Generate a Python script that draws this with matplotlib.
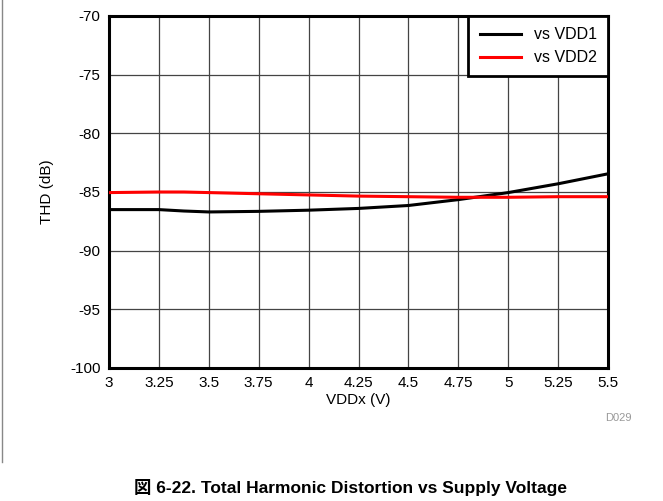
#!/usr/bin/env python3

"""
THD vs supply voltage (VDD1 / VDD2 sweep).
"""

import matplotlib
matplotlib.use("Agg")
import matplotlib.pyplot as plt
from matplotlib.lines import Line2D

plt.rcParams["font.family"] = ["Liberation Sans", "Noto Sans CJK JP", "DejaVu Sans"]
plt.rcParams["axes.unicode_minus"] = False

vdd = [3.0, 3.25, 3.375, 3.5, 3.75, 4.0, 4.25, 4.5, 4.75, 5.0, 5.25, 5.5]
thd_vdd1 = [-86.5, -86.5, -86.62, -86.7, -86.65, -86.55, -86.4, -86.15, -85.65, -85.05, -84.3, -83.45]
thd_vdd2 = [-85.05, -85.0, -85.0, -85.05, -85.15, -85.25, -85.35, -85.4, -85.45, -85.45, -85.4, -85.4]

x_ticks = [3, 3.25, 3.5, 3.75, 4, 4.25, 4.5, 4.75, 5, 5.25, 5.5]
x_tick_labels = ["3", "3.25", "3.5", "3.75", "4", "4.25", "4.5", "4.75", "5", "5.25", "5.5"]
y_ticks = [-100, -95, -90, -85, -80, -75, -70]


def main() -> None:
    W, H = 663, 501
    fig = plt.figure(figsize=(W / 100, H / 100), dpi=100)
    ax = fig.add_axes([109 / W, 1 - 368 / H, (608 - 109) / W, (368 - 16) / H])

    ax.plot(vdd, thd_vdd1, color="black", lw=2.2, label="vs VDD1", zorder=3)
    ax.plot(vdd, thd_vdd2, color="#ff0000", lw=2.2, label="vs VDD2", zorder=3)

    ax.set_xlim(3, 5.5)
    ax.set_ylim(-100, -70)
    ax.set_xticks(x_ticks)
    ax.set_xticklabels(x_tick_labels)
    ax.set_yticks(y_ticks)
    ax.tick_params(length=0, labelsize=11, pad=6)
    ax.grid(True, color="#444444", lw=0.9)
    for s in ax.spines.values():
        s.set_linewidth(2.2)

    ax.set_xlabel("VDDx (V)", fontsize=11, labelpad=2)
    ax.set_ylabel("THD (dB)", fontsize=11, labelpad=12)

    leg = ax.legend(loc="upper right", borderaxespad=0, fancybox=False,
                    fontsize=11.5, handlelength=2.6, framealpha=1,
                    borderpad=0.7, labelspacing=0.5)
    leg.get_frame().set_edgecolor("black")
    leg.get_frame().set_linewidth(2)

    fig.text(618 / W, 1 - 418 / H, "D029", fontsize=8, color="#999999",
             ha="center", va="center")
    fig.text(350 / W, 1 - 487 / H,
             "図 6-22. Total Harmonic Distortion vs Supply Voltage",
             fontsize=12.5, fontweight="bold", ha="center", va="center")

    fig.add_artist(Line2D([1.5 / W, 1.5 / W], [1, 1 - 462 / H],
                          color="#888888", lw=1, transform=fig.transFigure))

    fig.savefig("out.png", dpi=100)


if __name__ == "__main__":
    main()
